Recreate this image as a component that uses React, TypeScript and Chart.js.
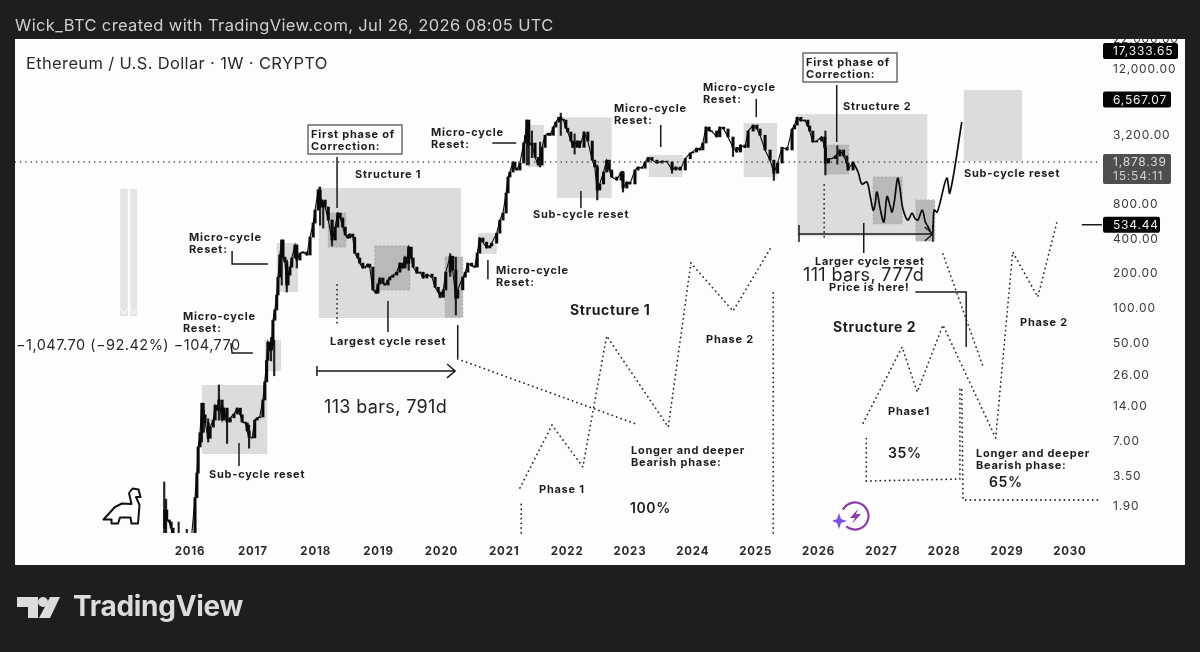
import React, { useEffect, useRef } from "react";
import { Chart, registerables } from "chart.js";

Chart.register(...registerables);

const closeDates = [2015.59,2015.60,2015.63,2015.67,2015.70,2015.73,2015.82,2015.94,2016.03,2016.08,2016.11,2016.13,2016.16,2016.19,2016.21,2016.24,2016.29,2016.32,2016.37,2016.40,2016.43,2016.46,2016.51,2016.54,2016.59,2016.64,2016.70,2016.75,2016.80,2016.83,2016.88,2016.91,2016.94,2016.99,2017.03,2017.07,2017.11,2017.16,2017.19,2017.22,2017.24,2017.27,2017.30,2017.32,2017.35,2017.38,2017.40,2017.43,2017.46,2017.48,2017.51,2017.54,2017.56,2017.59,2017.62,2017.67,2017.70,2017.75,2017.80,2017.86,2017.91,2017.96,2017.99,2018.04,2018.07,2018.10,2018.15,2018.20,2018.26,2018.31,2018.35,2018.39,2018.43,2018.47,2018.51,2018.54,2018.59,2018.62,2018.67,2018.70,2018.75,2018.78,2018.83,2018.86,2018.91,2018.96,2018.99,2019.02,2019.07,2019.10,2019.15,2019.18,2019.23,2019.29,2019.34,2019.38,2019.42,2019.45,2019.48,2019.52,2019.55,2019.61,2019.66,2019.71,2019.77,2019.85,2019.90,2019.95,2019.98,2020.03,2020.07,2020.14,2020.18,2020.23,2020.26,2020.34,2020.38,2020.42,2020.48,2020.53,2020.57,2020.61,2020.66,2020.72,2020.77,2020.80,2020.88,2020.93,2020.98,2021.03,2021.06,2021.09,2021.14,2021.17,2021.20,2021.25,2021.31,2021.34,2021.36,2021.39,2021.44,2021.49,2021.54,2021.60,2021.65,2021.70,2021.73,2021.78,2021.82,2021.87,2021.90,2021.94,2021.98,2022.01,2022.06,2022.09,2022.16,2022.20,2022.27,2022.33,2022.40,2022.44,2022.48,2022.52,2022.58,2022.63,2022.67,2022.71,2022.79,2022.86,2022.89,2022.95,2023.00,2023.08,2023.13,2023.19,2023.24,2023.29,2023.35,2023.43,2023.51,2023.59,2023.67,2023.73,2023.80,2023.88,2023.96,2024.00,2024.06,2024.11,2024.16,2024.21,2024.26,2024.30,2024.38,2024.43,2024.49,2024.56,2024.64,2024.70,2024.76,2024.83,2024.88,2024.96,2025.02,2025.07,2025.15,2025.23,2025.29,2025.35,2025.42,2025.50,2025.58,2025.62,2025.66,2025.72,2025.78,2025.83,2025.86,2025.91,2025.97,2026.05,2026.10,2026.11,2026.16,2026.21,2026.27,2026.34,2026.40,2026.45,2026.47,2026.55];
const closes = [1.23,1.77,1.45,1.39,1.23,0.88,0.85,0.9,1.11,2.26,3.7,6.25,8.3,15,11.9,10.1,7.45,9.3,10.7,14.4,13.1,16,10.7,13.6,10.3,11.2,12.1,13.6,11.9,10.3,10.1,8.6,7.6,7.5,10.7,11.2,11.4,16,23,35.4,51,43.5,48,79,97,131,187,292,394,280,254,160,195,229,275,356,264,303,310,292,417,553,717,1072,763,877,763,587,394,510,676,613,510,435,410,444,417,303,275,248,225,229,243,229,145,136,163,184,165,160,177,187,195,207,248,225,280,248,342,275,229,203,207,184,199,187,153,139,125,145,207,285,216,123,145,187,207,248,235,229,303,410,378,336,350,370,452,587,676,1010,1390,1537,1878,1660,1600,1840,2747,3200,4350,2640,2747,2060,1770,2520,3210,3340,3210,3780,4183,4600,4430,4350,3700,3424,2860,2520,2860,2520,3424,2860,1950,1700,1072,1210,1537,1950,1600,1390,1310,1537,1115,1258,1210,1600,1700,1660,1878,2060,1950,1840,1915,1878,1600,1700,1600,2010,2250,2294,2480,2390,2750,3780,3500,3490,3110,3780,3640,3100,2520,2294,2640,2520,3490,3940,3640,3210,2390,1950,1500,1840,2520,2390,3640,3940,4600,4270,4350,3860,3490,2803,2860,3100,2490,1840,2010,2010,2120,2390,2120,1840,1600,1878];

const wickDates = [2015.59,2015.62,2015.82,2015.95,2016.19,2016.22,2016.29,2016.46,2016.59,2016.94,2017.29,2017.34,2017.46,2017.54,2017.70,2018.07,2018.12,2018.26,2019.48,2020.14,2020.23,2021.36,2021.39,2021.44,2021.57,2021.90,2022.12,2022.48,2022.89,2023.67,2024.64,2025.29,2026.11,2026.30];
const wickLows = [0.8,0.8,0.8,0.8,6.9,8.4,6.9,10.7,6.7,6.1,35,26,160,139,225,530,500,350,215,190,88,1770,1770,2050,1700,3200,2200,880,1030,1500,2100,1300,1450,1800];
const wickHighs = [3.1,2.2,1.39,1.2,15,13.1,11,21.6,11.2,9.7,56,53,394,264,356,1140,795,587,345,300,280,4350,4000,3500,2800,5000,3300,1770,1560,1880,3050,1900,3500,2600];

const projectionDates = [2026.55,2026.63,2026.69,2026.77,2026.82,2026.87,2026.90,2026.93,2026.98,2027.04,2027.09,2027.14,2027.17,2027.21,2027.26,2027.30,2027.34,2027.42,2027.49,2027.53,2027.58,2027.65,2027.70,2027.73,2027.81,2027.84,2027.89,2028.04,2028.09,2028.28];
const projection = [1878,1537,1210,1258,970,717,800,1030,747,565,940,778,690,877,1360,1072,747,587,676,613,587,717,565,530,447,717,690,1360,1010,4183];

const rectLeft = [2014.89,2015.05,2016.19,2017.19,2017.38,2018.05,2020.58,2021.38,2021.84,2023.30,2024.81,2025.66,2028.31];
const rectRight = [2015.01,2015.16,2017.23,2017.45,2017.72,2020.31,2020.88,2021.63,2022.71,2023.84,2025.34,2027.73,2029.24];
const rectTop = [1093,1093,21.6,53,371,1115,452,3940,4600,2160,4100,4900,7960];
const rectBottom = [86,86,5.43,28.6,139,82.7,298,1700,912,1390,1390,426,1915];

const darkLeft = [2018.20,2018.94,2020.06,2026.10,2026.87,2027.55];
const darkRight = [2018.48,2019.50,2020.34,2026.48,2027.33,2027.85];
const darkTop = [676,350,280,2640,1390,877];
const darkBottom = [342,145,84,1480,545,387];

const leaderX = [2018.34,2018.34,null,2019.15,2019.15,null,2020.26,2020.26,null,2018.02,2020.22,null,2018.02,2018.02,null,2020.09,2020.22,2020.09,null,2025.69,2027.82,null,2025.69,2025.69,null,2027.82,2027.82,null,2027.69,2027.82,2027.69,null,2026.72,2026.72,null,2026.29,2026.29,null,2027.54,2028.35,2028.35,null,2016.67,2016.67,2017.24,null,2016.65,2016.67,2017.00,null,2020.81,2021.19,null,2020.74,2020.74,null,2023.49,2023.49,null,2025.01,2025.01,null,2022.22,2022.22,null,2016.78,2016.78,null,2030.19,2030.51];
const leaderY = [2077,748,null,116,62.5,null,71.8,37.1,null,28.6,28.6,null,31.6,25.9,null,32.9,28.6,24.9,null,444,444,null,532,378,null,532,378,null,511,444,386,null,554,304,null,8780,2803,null,139,139,46.3,null,316,244,244,null,50.1,41,41,null,2747,2747,null,264,180,null,3940,2537,null,6630,4630,null,1050,748,null,6.77,4.27,null,534.44,534.44];

const dottedX = [2021.27,2021.27,null,2021.25,2021.76,2022.25,2022.63,2023.61,2023.97,2024.64,2025.23,null,2025.28,2025.28,null,2020.26,2023.14,null,2018.34,2018.34,null,2026.76,2026.76,null,2026.71,2027.33,2027.57,2027.98,2028.82,2029.09,2029.49,2029.79,null,2026.76,2028.25,2028.25,null,2028.28,2028.30,2030.51,null,2027.98,2028.62,null,2026.09,2026.09];
const dottedY = [1.12,2.04,null,2.75,9.7,4.19,57.7,9.33,249,95,329,null,1.12,145,null,36.4,9.7,null,160,69,null,3.16,7.63,null,10.1,46.3,18.8,71.8,7.48,310,126,554,null,3.16,3.29,20.8,null,19.6,2.16,2.16,null,298,31,null,1186,418];

const yearTicks = [2016,2017,2018,2019,2020,2021,2022,2023,2024,2025,2026,2027,2028,2029,2030];
const priceTicks = [22000,12000,3200,800,400,200,100,50,26,14,7,3.5,1.9];
const lastPrice = 1878.39;
const countdown = "15:54:11";
const priceTags = [17333.65, 6567.07, 534.44];

type Note = { t: string[]; x: number; y: number; k: "b" | "B" | "r" | "p" };
const notes: Note[] = [
  { t: ["First phase of", "Correction:"], x: 311, y: 135, k: "b" },
  { t: ["First phase of", "Correction:"], x: 806, y: 63, k: "b" },
  { t: ["Structure 1"], x: 355, y: 175, k: "b" },
  { t: ["Structure 2"], x: 843, y: 107, k: "b" },
  { t: ["Micro-cycle", "Reset:"], x: 189, y: 238, k: "b" },
  { t: ["Micro-cycle", "Reset:"], x: 183, y: 317, k: "b" },
  { t: ["Micro-cycle", "Reset:"], x: 431, y: 133, k: "b" },
  { t: ["Micro-cycle", "Reset:"], x: 496, y: 271, k: "b" },
  { t: ["Micro-cycle", "Reset:"], x: 614, y: 109, k: "b" },
  { t: ["Micro-cycle", "Reset:"], x: 703, y: 88, k: "b" },
  { t: ["Sub-cycle reset"], x: 209, y: 475, k: "b" },
  { t: ["Sub-cycle reset"], x: 533, y: 215, k: "b" },
  { t: ["Sub-cycle reset"], x: 964, y: 174, k: "b" },
  { t: ["Largest cycle reset"], x: 330, y: 342, k: "b" },
  { t: ["Larger cycle reset"], x: 815, y: 262, k: "b" },
  { t: ["Price is here!"], x: 829, y: 288, k: "b" },
  { t: ["Phase 1"], x: 539, y: 490, k: "b" },
  { t: ["Phase 2"], x: 706, y: 340, k: "b" },
  { t: ["Phase1"], x: 888, y: 412, k: "b" },
  { t: ["Phase 2"], x: 1020, y: 323, k: "b" },
  { t: ["Longer and deeper", "Bearish phase:"], x: 631, y: 451, k: "b" },
  { t: ["Longer and deeper", "Bearish phase:"], x: 976, y: 454, k: "b" },
  { t: ["Structure 1"], x: 570, y: 311, k: "B" },
  { t: ["Structure 2"], x: 833, y: 328, k: "B" },
  { t: ["100%"], x: 630, y: 509, k: "p" },
  { t: ["35%"], x: 888, y: 454, k: "p" },
  { t: ["65%"], x: 989, y: 483, k: "p" },
  { t: ["113 bars, 791d"], x: 324, y: 408, k: "r" },
  { t: ["111 bars, 777d"], x: 803, y: 276, k: "r" },
];

const INK = "#1c1c1c";
const FONT = "Inter, 'Noto Sans', sans-serif";
const fmt = (v: number) => v.toLocaleString("en-US", { minimumFractionDigits: 2, maximumFractionDigits: 2 });

function label(ctx: CanvasRenderingContext2D, s: string, x: number, y: number, font: string, sp: number, col: string) {
  ctx.font = font;
  (ctx as any).letterSpacing = sp + "px";
  ctx.fillStyle = col;
  ctx.textAlign = "left";
  ctx.textBaseline = "middle";
  ctx.fillText(s, x, y);
}

const backdrop = {
  id: "backdrop",
  beforeDraw(chart: any) {
    const c = chart.ctx;
    c.save();
    c.fillStyle = "#1e1e1e";
    c.fillRect(0, 0, 1200, 652);
    c.fillStyle = "#fdfdfd";
    c.fillRect(15, 39, 1170, 526);
    c.restore();
    c.letterSpacing = "0.8px";
  },
  beforeDatasetsDraw(chart: any) {
    const c = chart.ctx;
    const { x, y } = chart.scales;
    const box = (l: number, r: number, t: number, b: number) => {
      const px = x.getPixelForValue(l), py = y.getPixelForValue(t);
      return [px, py, x.getPixelForValue(r) - px, y.getPixelForValue(b) - py];
    };
    c.save();
    c.letterSpacing = "0px";
    rectLeft.forEach((l, i) => {
      const [a, b, w, h] = box(l, rectRight[i], rectTop[i], rectBottom[i]);
      c.fillStyle = i < 2 ? "#e4e4e4" : "#dcdcdc";
      c.fillRect(a, b, w, h);
      if (i < 2) {
        c.strokeStyle = "#fdfdfd";
        c.lineWidth = 1;
        c.beginPath();
        c.moveTo(a, b + h - 8);
        c.lineTo(a + w / 2, b + h - 2);
        c.lineTo(a + w, b + h - 8);
        c.stroke();
      }
    });
    darkLeft.forEach((l, i) => {
      const [a, b, w, h] = box(l, darkRight[i], darkTop[i], darkBottom[i]);
      c.fillStyle = "#b9b9b9";
      c.fillRect(a, b, w, h);
      c.strokeStyle = "#a8a8a8";
      c.lineWidth = 1;
      c.setLineDash([2, 2]);
      c.strokeRect(a, b, w, h);
      c.setLineDash([]);
    });
    c.restore();
  },
  afterDraw(chart: any) {
    const c = chart.ctx as any;
    const { y } = chart.scales;
    c.save();
    c.fillStyle = "#1e1e1e";
    c.fillRect(0, 0, 1200, 39);
    label(c, "Wick_BTC created with TradingView.com, Jul 26, 2026 08:05 UTC", 15, 26, `400 16.5px ${FONT}`, 0.37, "#cfcfcf");
    label(c, "Ethereum / U.S. Dollar · 1W · CRYPTO", 26, 64, `400 16.5px ${FONT}`, 0.35, "#2a2a2a");

    notes.forEach((n) => {
      n.t.forEach((s, i) => {
        if (n.k === "b") label(c, s, n.x, n.y + i * 11.5, `700 11px ${FONT}`, 0.75, INK);
        if (n.k === "B") label(c, s, n.x, n.y, `700 14px ${FONT}`, 0.6, INK);
        if (n.k === "p") label(c, s, n.x, n.y, `600 14px ${FONT}`, 0.6, INK);
        if (n.k === "r") label(c, s, n.x, n.y, `400 18px ${FONT}`, 0.35, "#222");
      });
    });
    label(c, "−1,047.70 (−92.42%) −104,770", 16, 346, `400 14.5px ${FONT}`, 0.48, "#2a2a2a");

    c.strokeStyle = "#6a6a6a";
    c.lineWidth = 1.5;
    c.strokeRect(308, 125, 94, 29);
    c.strokeRect(803, 53, 94, 29);

    const tagW = [75, 68, 57];
    priceTags.forEach((p, i) => {
      const py = y.getPixelForValue(p);
      c.fillStyle = "#050505";
      c.beginPath();
      c.roundRect(1103, py - 8, tagW[i], 16, 2);
      c.fill();
      label(c, fmt(p), 1113, py + 0.5, `400 12px ${FONT}`, 0.8, "#f0f0f0");
    });
    const ly = y.getPixelForValue(lastPrice);
    c.fillStyle = "#4e4e4e";
    c.beginPath();
    c.roundRect(1103, ly - 8, 68, 30, 2);
    c.fill();
    label(c, fmt(lastPrice), 1113, ly + 0.5, `400 12px ${FONT}`, 0.8, "#dddddd");
    label(c, countdown, 1113, ly + 14, `400 12px ${FONT}`, 0.8, "#cfcfcf");

    c.strokeStyle = "#111";
    c.lineWidth = 2;
    c.lineJoin = "round";
    c.beginPath();
    const dino = [[103.5,519.5],[115,507],[122,503.5],[131.5,504],[129,493],[132.5,488.5],[138.5,489.5],[140.5,497],[136,497],[139.5,505],[138,523.5],[131.5,523.5],[130.5,517.5],[120,517.5],[118,523.5],[111.5,523.5],[111.5,519.5]];
    dino.forEach((p, i) => (i ? c.lineTo(p[0], p[1]) : c.moveTo(p[0], p[1])));
    c.closePath();
    c.stroke();

    c.strokeStyle = "#8b3fa6";
    c.lineWidth = 2.2;
    c.beginPath();
    c.arc(855, 516, 13.5, -0.85 * Math.PI, 0.72 * Math.PI);
    c.stroke();
    c.fillStyle = "#8b3fa6";
    c.beginPath();
    [[858,509],[850,518],[855,518],[852,524],[861,514],[856,514]].forEach((p, i) => (i ? c.lineTo(p[0], p[1]) : c.moveTo(p[0], p[1])));
    c.closePath();
    c.fill();
    c.fillStyle = "#7a4df0";
    c.beginPath();
    [[839,513],[841,519],[847,521],[841,523],[839,529],[837,523],[832,521],[837,519]].forEach((p, i) => (i ? c.lineTo(p[0], p[1]) : c.moveTo(p[0], p[1])));
    c.closePath();
    c.fill();

    c.fillStyle = "#dcdcdc";
    c.beginPath();
    [[17,597],[38,597],[38,618],[28,618],[28,607],[17,607]].forEach((p, i) => (i ? c.lineTo(p[0], p[1]) : c.moveTo(p[0], p[1])));
    c.closePath();
    c.fill();
    c.beginPath();
    c.arc(43, 602, 5, 0, Math.PI * 2);
    c.fill();
    c.beginPath();
    [[50,597],[60,597],[50,618],[39,618]].forEach((p, i) => (i ? c.lineTo(p[0], p[1]) : c.moveTo(p[0], p[1])));
    c.closePath();
    c.fill();
    label(c, "TradingView", 73, 608, `700 28px ${FONT}`, -0.3, "#dcdcdc");
    c.restore();
    c.letterSpacing = "0px";
  },
};

export default function App() {
  const ref = useRef<HTMLCanvasElement>(null);
  useEffect(() => {
    document.body.style.margin = "0";
    document.body.style.background = "#1e1e1e";
    const chart = new Chart(ref.current!, {
      type: "bar",
      plugins: [backdrop],
      data: {
        datasets: [
          {
            label: "ETHUSD range",
            data: wickDates.map((d, i) => ({ x: d, y: [wickLows[i], wickHighs[i]] })),
            backgroundColor: "#222",
            barThickness: 1.5,
            grouped: false,
            order: 3,
          } as any,
          {
            label: "ETHUSD body",
            data: closeDates.slice(1).map((d, i) => ({ x: d, y: [Math.min(closes[i], closes[i + 1]), Math.max(closes[i], closes[i + 1])] })),
            backgroundColor: "#0a0a0a",
            barThickness: 2.4,
            grouped: false,
            order: 2,
          } as any,
          {
            type: "line",
            label: "ETHUSD close",
            data: closeDates.map((d, i) => ({ x: d, y: closes[i] })),
            borderColor: "#0a0a0a",
            borderWidth: 1.1,
            pointRadius: 0,
            order: 2,
          },
          {
            type: "line",
            label: "Projection",
            data: projectionDates.map((d, i) => ({ x: d, y: projection[i] })),
            borderColor: "#0a0a0a",
            borderWidth: 1.7,
            pointRadius: 0,
            tension: 0.35,
            order: 2,
          },
          {
            type: "line",
            label: "Last price",
            data: [{ x: 2013.22, y: lastPrice }, { x: 2030.48, y: lastPrice }],
            borderColor: "#333",
            borderWidth: 1.5,
            borderDash: [0.1, 5.2],
            borderCapStyle: "round",
            pointRadius: 0,
            order: 1,
          },
          {
            type: "line",
            label: "Dotted paths",
            data: dottedX.map((d, i) => ({ x: d, y: dottedY[i] })),
            borderColor: "#2a2a2a",
            borderWidth: 1.8,
            borderDash: [0.1, 4.6],
            borderCapStyle: "round",
            pointRadius: 0,
            spanGaps: false,
            clip: false,
            order: 1,
          },
          {
            type: "line",
            label: "Leaders",
            data: leaderX.map((d, i) => ({ x: d, y: leaderY[i] })),
            borderColor: "#1a1a1a",
            borderWidth: 1.5,
            pointRadius: 0,
            spanGaps: false,
            clip: false,
            order: 1,
          },
        ] as any,
      },
      options: {
        responsive: false,
        animation: false,
        layout: { padding: { left: 15, right: 15, top: 39, bottom: 87 } },
        plugins: { legend: { display: false }, tooltip: { enabled: false }, title: { display: false } },
        events: [],
        scales: {
          x: {
            type: "linear",
            offset: false,
            min: 2013.216,
            max: 2030.479,
            grid: { display: false, drawTicks: false },
            border: { display: false },
            afterBuildTicks: (s: any) => { s.ticks = yearTicks.map((v) => ({ value: v })); },
            afterFit: (s: any) => { s.height = 32; },
            ticks: {
              autoSkip: false,
              maxRotation: 0,
              padding: 12,
              color: "#2a2a2a",
              font: { family: FONT, size: 11.5, weight: "700" },
              callback: (v: any) => String(v),
            },
          },
          y: {
            type: "logarithmic",
            position: "right",
            min: 1.116,
            max: 22060,
            grid: { display: false, drawTicks: false },
            border: { display: false },
            afterBuildTicks: (s: any) => { s.ticks = priceTicks.map((v) => ({ value: v })); },
            afterFit: (s: any) => { s.width = 85; },
            ticks: {
              autoSkip: false,
              padding: 13,
              color: "#3a3a3a",
              font: { family: FONT, size: 12 },
              callback: (v: any) => fmt(Number(v)),
            },
          },
        },
      } as any,
    });
    return () => chart.destroy();
  }, []);
  return <canvas ref={ref} width={1200} height={652} style={{ display: "block" }} />;
}
